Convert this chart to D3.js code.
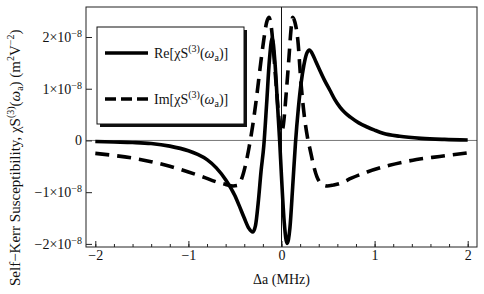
<!DOCTYPE html>
<html>
<head>
<meta charset="utf-8">
<script src="https://cdn.jsdelivr.net/npm/d3@7"></script>
<style>
  html, body { margin: 0; padding: 0; background: #fff; }
  svg { display: block; }
</style>
</head>
<body>
<script>
(function() {
    'use strict';

    // detuning (MHz) and susceptibility, in units of 1e-8 m^2 V^-2
    var re_x = [-2, -1.8, -1.6, -1.4, -1.2, -1.0, -0.9, -0.8, -0.7, -0.6, -0.5,
                -0.45, -0.4, -0.35, -0.31, -0.28, -0.25, -0.22, -0.19, -0.16, -0.13,
                -0.10, -0.07, -0.04, -0.02, 0.0, 0.03, 0.06, 0.09, 0.12, 0.15,
                0.18, 0.21, 0.24, 0.27, 0.30, 0.33, 0.37, 0.41, 0.46, 0.52,
                0.57, 0.63, 0.68, 0.74, 0.83, 0.92, 1.0, 1.09, 1.27, 1.5, 1.75, 2.0];
    var re_chi = [-0.02, -0.03, -0.04, -0.06, -0.11, -0.20, -0.27, -0.37, -0.53, -0.76, -1.07,
                  -1.28, -1.50, -1.70, -1.77, -1.65, -1.2, -0.6, -0.1, 0.7, 1.55,
                  1.98, 1.5, 0.6, 0.0, -0.7, -1.6, -1.99, -1.7, -0.9, -0.05,
                  0.6, 1.1, 1.45, 1.68, 1.75, 1.68, 1.52, 1.36, 1.17, 0.97,
                  0.80, 0.64, 0.54, 0.45, 0.34, 0.26, 0.20, 0.14, 0.08, 0.04, 0.02, 0.01];

    var im_x = [-2.0, -1.8, -1.6, -1.4, -1.2, -1.0, -0.85, -0.7, -0.6, -0.52, -0.47,
                -0.43, -0.39, -0.35, -0.31, -0.27, -0.23, -0.19, -0.16, -0.135, -0.11,
                -0.08, -0.05, -0.02, 0.0, 0.02, 0.05, 0.08, 0.10, 0.12, 0.145,
                0.175, 0.21, 0.25, 0.28, 0.31, 0.34, 0.38, 0.43, 0.49, 0.56,
                0.63, 0.75, 0.92, 1.16, 1.45, 1.7, 2.0];
    var im_chi = [-0.25, -0.29, -0.34, -0.41, -0.50, -0.61, -0.70, -0.80, -0.85, -0.88, -0.87,
                  -0.75, -0.5, -0.15, 0.28, 0.8, 1.4, 1.95, 2.28, 2.38, 2.2,
                  1.6, 0.9, 0.3, 0.15, 0.3, 0.9, 1.6, 2.1, 2.38, 2.28,
                  1.95, 1.1, 0.4, 0.05, -0.2, -0.45, -0.7, -0.84, -0.88, -0.86,
                  -0.83, -0.73, -0.61, -0.48, -0.37, -0.31, -0.24];

    var x_ticks = [-2, -1, 0, 1, 2];
    var x_minor = d3.range(-20, 21, 2).map(function(d){return d / 10;});
    var y_ticks = [-2, -1, 0, 1, 2];

    var font = '"Liberation Serif"';
    var ink = '#111';
    var width = 484, height = 294;
    var box = {left: 86, right: 477, top: 7, bottom: 247};

    var svg = d3.select('body').append('svg')
        .attr('width', width)
        .attr('height', height)
        .attr('font-family', font);

    var scale_x = d3.scaleLinear().domain([-2.1, 2.1]).range([box.left, box.right]);
    var scale_y = d3.scaleLinear().domain([-2.06, 2.58]).range([box.bottom, box.top]);

    // zero lines
    svg.append('line')
        .attr('x1', box.left).attr('x2', box.right)
        .attr('y1', scale_y(0)).attr('y2', scale_y(0))
        .attr('stroke', '#777').attr('stroke-width', 1);
    svg.append('line')
        .attr('x1', scale_x(0)).attr('x2', scale_x(0))
        .attr('y1', box.top).attr('y2', box.bottom)
        .attr('stroke', ink).attr('stroke-width', 1);

    // axes with inward ticks
    function style_axis(g) {
        g.attr('font-family', font).attr('font-size', 14);
        g.select('.domain').remove();
        g.selectAll('line').attr('stroke', '#222');
        g.selectAll('text').attr('font-family', font).attr('fill', ink);
    }
    svg.append('g')
        .attr('transform', 'translate(0,' + box.bottom + ')')
        .call(d3.axisBottom(scale_x).tickValues(x_minor).tickSize(-3).tickFormat(''))
        .call(style_axis);
    svg.append('g')
        .attr('transform', 'translate(0,' + box.bottom + ')')
        .call(d3.axisBottom(scale_x).tickValues(x_ticks).tickSize(-6).tickPadding(3)
              .tickFormat(function(d){return d < 0 ? '\u2212' + (-d) : String(d);}))
        .call(style_axis);

    var axis_y = svg.append('g')
        .attr('transform', 'translate(' + box.left + ',0)')
        .call(d3.axisLeft(scale_y).tickValues(y_ticks).tickSize(-6).tickPadding(4)
              .tickFormat(function(d){return String(d);}))
        .call(style_axis);
    axis_y.selectAll('.tick text').each(function(d) {
        var t = d3.select(this);
        if (d === 0) { return; }
        t.text('');
        t.append('tspan').text((d < 0 ? '\u2212' : '') + Math.abs(d) + '\u00d710');
        t.append('tspan').attr('dy', '-0.5em').attr('font-size', 10).text('\u22128');
    });

    // frame
    svg.append('rect')
        .attr('x', box.left).attr('y', box.top)
        .attr('width', box.right - box.left)
        .attr('height', box.bottom - box.top)
        .attr('fill', 'none').attr('stroke', '#222').attr('stroke-width', 1);

    var line = d3.line()
        .x(function(d){return scale_x(d[0]);})
        .y(function(d){return scale_y(d[1]);})
        .curve(d3.curveMonotoneX);

    svg.append('path')
        .attr('d', line(d3.zip(im_x, im_chi)))
        .attr('fill', 'none').attr('stroke', '#000')
        .attr('stroke-width', 3.6)
        .attr('stroke-dasharray', '14,8');
    svg.append('path')
        .attr('d', line(d3.zip(re_x, re_chi)))
        .attr('fill', 'none').attr('stroke', '#000')
        .attr('stroke-width', 3.6);

    // chi_S^(3)(omega_a) as tspans
    function chi_label(sel, size, small) {
        sel.append('tspan').text('\u03c7S');
        sel.append('tspan').attr('dy', -6).attr('font-size', small).text('(3)');
        sel.append('tspan').attr('dy', 6).text('(');
        sel.append('tspan').attr('font-style', 'italic').text('\u03c9');
        sel.append('tspan').attr('dy', 3).attr('font-size', small).text('a');
        sel.append('tspan').attr('dy', -3).text(')');
    }

    // legend
    var legend = svg.append('g');
    legend.append('rect')
        .attr('x', 100).attr('y', 30).attr('width', 147).attr('height', 97)
        .attr('fill', ink);
    legend.append('rect')
        .attr('x', 97).attr('y', 27).attr('width', 147).attr('height', 97)
        .attr('fill', '#fff').attr('stroke', ink).attr('stroke-width', 1);
    var entries = [['Re[', 53, null], ['Im[', 99, '11,5']];
    entries.forEach(function(e) {
        legend.append('line')
            .attr('x1', 105).attr('x2', 148)
            .attr('y1', e[1]).attr('y2', e[1])
            .attr('stroke', '#000').attr('stroke-width', 3.6)
            .attr('stroke-dasharray', e[2]);
        var t = legend.append('text')
            .attr('x', 154).attr('y', e[1] + 5)
            .attr('font-family', font)
            .attr('font-size', 14)
            .attr('fill', ink);
        t.append('tspan').text(e[0]);
        chi_label(t, 14, 10);
        t.append('tspan').text(']');
    });

    // axis titles
    svg.append('text')
        .attr('x', scale_x(0)).attr('y', 284)
        .attr('text-anchor', 'middle')
        .attr('font-family', font)
        .attr('font-size', 14)
        .attr('fill', ink)
        .text('\u0394a (MHz)');

    var ylab = svg.append('text')
        .attr('transform', 'translate(20,286) rotate(-90)')
        .attr('text-anchor', 'start')
        .attr('font-family', font)
        .attr('font-size', 15)
        .attr('fill', ink);
    ylab.append('tspan').text('Self\u2212Kerr Susceptibility, ');
    chi_label(ylab, 15, 10);
    ylab.append('tspan').text(' (m');
    ylab.append('tspan').attr('dy', -6).attr('font-size', 10).text('2');
    ylab.append('tspan').attr('dy', 6).text('V');
    ylab.append('tspan').attr('dy', -6).attr('font-size', 10).text('\u22122');
    ylab.append('tspan').attr('dy', 6).text(')');
})();
</script>
</body>
</html>
